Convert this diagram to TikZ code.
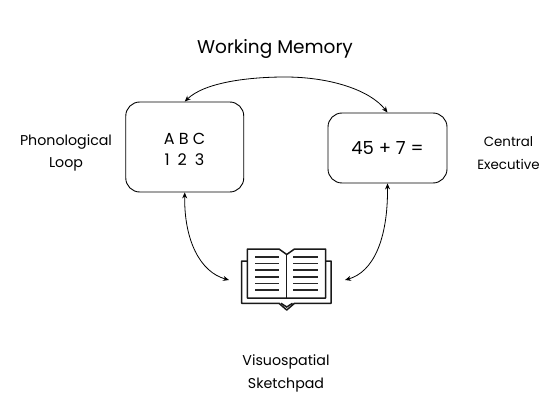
\documentclass[tikz,border=0pt]{standalone}
\usepackage{fontspec}
\setmainfont{Poppins}
\usetikzlibrary{arrows.meta}
\tikzset{
 box/.style={draw=black,line width=0.9pt,rounded corners=14pt,inner sep=0pt,align=center},
 lab/.style={inner sep=0pt,align=center,font=\fontsize{14.2}{22.5}\selectfont},
 conn/.style={draw=black,line width=0.8pt,{Stealth[length=6pt,width=5pt]}-{Stealth[length=6pt,width=5pt]}},
 ink/.style={draw=black!90,line width=1.5pt},
 rule/.style={draw=black!85,line width=1.6pt},
}
\begin{document}
\begin{tikzpicture}[x=1pt,y=-1pt]
\useasboundingbox (0,0) rectangle (552,409);
\node[lab,font=\fontsize{18.5}{22}\selectfont] (title) at (275,49) {Working Memory};
\node[box,minimum width=118pt,minimum height=90pt] (pl) at (184.75,147) {};
\node[inner sep=0pt,align=center,font=\fontsize{16}{21}\selectfont] (pltext) at (184.5,149.5) {A B C\\{\spaceskip=0.5em 1 2 3}};
\node[box,minimum width=119pt,minimum height=70pt,font=\fontsize{18}{20}\selectfont] (ce) at (387.5,148) {\raisebox{-1pt}{45 + 7 =}};
\node[lab] (pll) at (66,153) {Phonological\\Loop};
\node[lab,font=\fontsize{13.4}{22.5}\selectfont] (cel) at (508.5,153) {Central\\Executive};
\node[lab] (vsl) at (286,373.5) {Visuospatial\\Sketchpad};
\node[minimum width=116pt,minimum height=62pt,inner sep=0pt,outer sep=0pt] (book) at (287,280) {};
% book
\draw[ink,line join=round] (247.3,261) -- (241.7,261) -- (241.7,303.3) -- (279,303.3) -- (286.7,310) -- (294.5,303.3) -- (331,303.3) -- (331,261) -- (325.7,261);
\draw[ink,line join=round] (286.7,298) -- (247.3,298) -- (247.3,249) -- (279,249) -- (286.7,254.5) -- (294.5,249) -- (325.7,249) -- (325.7,298) -- cycle;
\draw[ink] (286.7,254.5) -- (286.7,298);
\draw[ink] (281,303.3) -- (286.7,307) -- (292.5,303.3);
\foreach \y in {257,263.4,270,276.7,283.3,289.7}{
 \draw[rule] (255,\y) -- (279,\y);
 \draw[rule] (293.3,\y) -- (317.7,\y);
}
% connectors
\draw[conn] (pl.north) .. controls (205,82) and (250,77) .. (285,77) .. controls (330,77) and (370,90) .. (ce.north);
\draw[conn] (pl.south) .. controls (184,240) and (200,272) .. (book.west);
\draw[conn] (ce.south) .. controls (388,240) and (373,272) .. (book.east);
\end{tikzpicture}
\end{document}
